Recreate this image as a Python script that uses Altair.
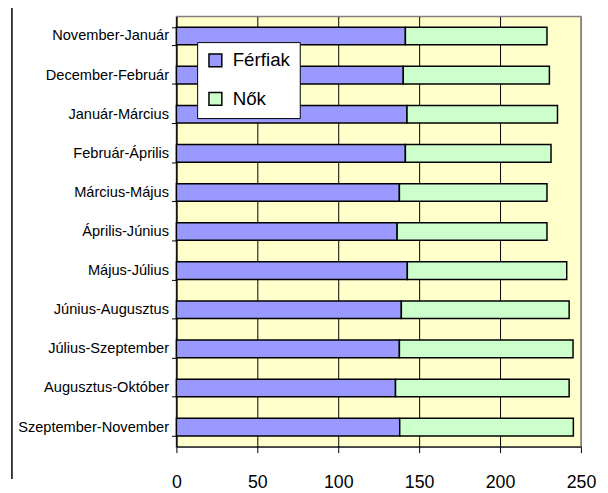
import altair as alt
import pandas as pd

periods = ["November-Január", "December-Február", "Január-Március", "Február-Április",
           "Március-Május", "Április-Június", "Május-Július", "Június-Augusztus",
           "Július-Szeptember", "Augusztus-Október", "Szeptember-November"]
ferfiak = [141.5, 140.2, 142.5, 141.5, 137.8, 136.4, 142.7, 139.0, 137.8, 135.4, 138.0]
nok = [87.5, 90.3, 93.0, 90.0, 91.2, 92.6, 98.5, 103.7, 107.3, 107.3, 107.3]
series = ["Férfiak", "Nők"]
colors = ["#9999FF", "#CCFFCC"]
x_ticks = [0, 50, 100, 150, 200, 250]

rows = []
for p, f, n in zip(periods, ferfiak, nok):
    rows.append({"period": p, "series": series[0], "value": f, "idx": 0})
    rows.append({"period": p, "series": series[1], "value": n, "idx": 1})
df = pd.DataFrame(rows)

FONT = "Liberation Sans"

bars = alt.Chart(df).mark_bar(stroke="black", strokeWidth=1.5).encode(
    y=alt.Y("period:N", sort=periods,
            scale=alt.Scale(paddingInner=0.55, paddingOuter=0.275),
            axis=alt.Axis(title=None, labelFont=FONT, labelFontSize=14.8, labelColor="black",
                          domainColor="black", domainWidth=1, tickColor="black", tickBand="extent",
                          tickSize=5, labelPadding=3, grid=False, labelLimit=300)),
    x=alt.X("value:Q", stack="zero",
            scale=alt.Scale(domain=[0, 250], nice=False),
            axis=alt.Axis(title=None, values=x_ticks, labelFont=FONT, labelFontSize=18,
                          labelColor="black", domainColor="black", tickColor="black",
                          tickSize=6, labelPadding=21, grid=True, labelFlush=False,
                          labelOverlap=False,
                          gridColor=alt.condition("datum.value == 250", alt.value("#808080"), alt.value("black")),
                          gridWidth=1)),
    color=alt.Color("series:N", scale=alt.Scale(domain=series, range=colors),
                    legend=alt.Legend(title=None, orient="none", legendX=21, legendY=26,
                                      fillColor="white", strokeColor="black", padding=9,
                                      symbolType="square", symbolSize=170,
                                      symbolStrokeColor="black", symbolStrokeWidth=1.5,
                                      labelFont=FONT, labelFontSize=19, labelColor="black",
                                      rowPadding=18, labelOffset=8)),
    order=alt.Order("idx:Q"),
)

border = alt.Chart(pd.DataFrame({"a": [0]})).mark_rule(color="black", strokeWidth=1.5).encode(
    x=alt.value(-166.7), y=alt.value(-13.3), y2=alt.value(468.7)
)

chart = alt.layer(bars, border).properties(
    width=410, height=436,
    autosize=alt.AutoSizeParams(type="none"),
    padding={"left": 170.7, "top": 5.3, "right": 19.3, "bottom": 43.7},
    background="white",
).configure_view(fill="#FFFFCC", stroke="#808080", strokeWidth=1.5)

chart.save("out.html", embed_options={"renderer": "svg", "actions": False})
